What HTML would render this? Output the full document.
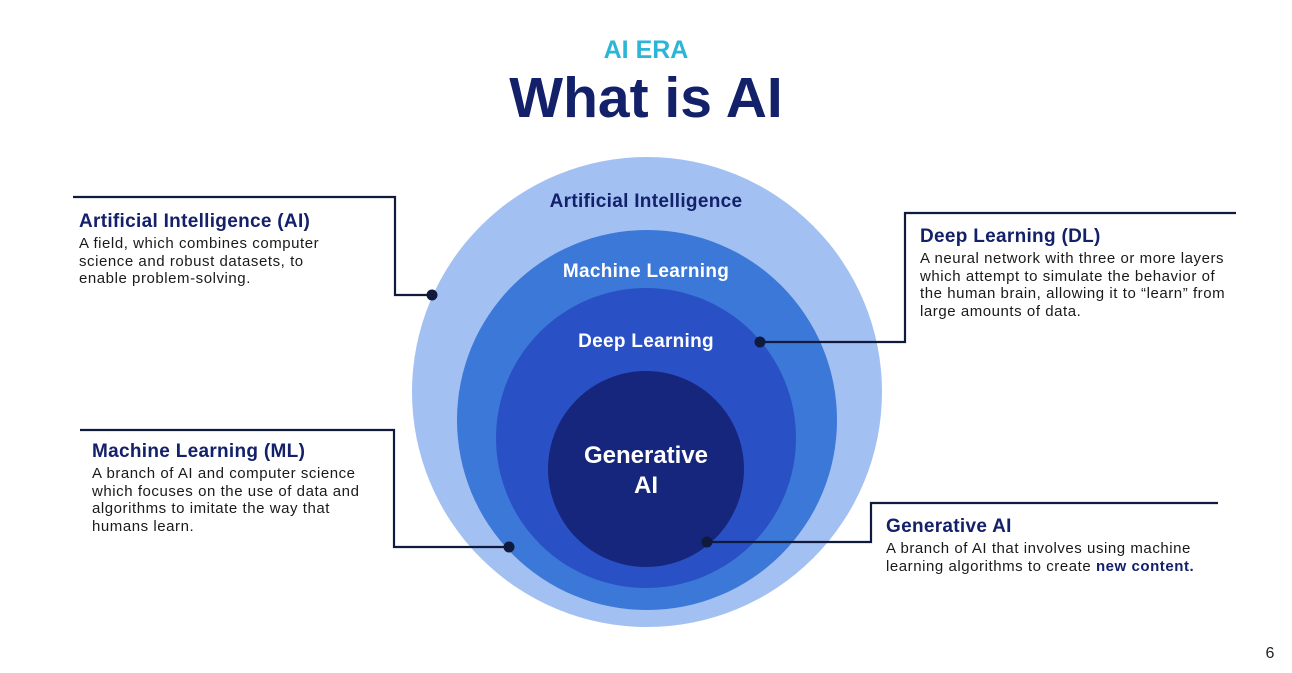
<!DOCTYPE html>
<html><head><meta charset="utf-8"><style>
body{margin:0;width:1292px;height:673px;background:#fff;overflow:hidden;position:relative;font-family:"Liberation Sans",sans-serif;}
.t{position:absolute;color:#111;}
h3{margin:0;font-size:19px;color:#13206a;font-weight:bold;letter-spacing:0.3px;}
p{margin:2px 0 0;font-size:15px;line-height:17.5px;color:#1a1a1a;letter-spacing:0.55px;white-space:nowrap;}
</style></head><body>
<svg width="1292" height="673" style="position:absolute;left:0;top:0">
<circle cx="647" cy="392" r="235" fill="#a3c0f2"/>
<circle cx="647" cy="420" r="190" fill="#3b78d8"/>
<circle cx="646" cy="438" r="150" fill="#2a50c6"/>
<circle cx="646" cy="469" r="98" fill="#16267c"/>
<g fill="none" stroke="#0f1a3d" stroke-width="2.2">
<polyline points="73,197 395,197 395,295 432,295"/>
<polyline points="760,342 905,342 905,213 1236,213"/>
<polyline points="80,430 394,430 394,547 509,547"/>
<polyline points="707,542 871,542 871,503 1218,503"/>
</g>
<g fill="#0f1a3d"><circle cx="432" cy="295" r="5.5"/><circle cx="760" cy="342" r="5.5"/><circle cx="509" cy="547" r="5.5"/><circle cx="707" cy="542" r="5.5"/></g>
<g font-family="Liberation Sans, sans-serif" font-weight="bold" text-anchor="middle">
<text x="646" y="58" font-size="25" fill="#2bb6d8">AI ERA</text>
<text x="646" y="117" font-size="57" fill="#13206a">What is AI</text>
<text x="646" y="207" font-size="19" fill="#13206a" letter-spacing="0.3">Artificial Intelligence</text>
<text x="646" y="277" font-size="19" fill="#fff" letter-spacing="0.3">Machine Learning</text>
<text x="646" y="347" font-size="19" fill="#fff" letter-spacing="0.3">Deep Learning</text>
<text x="646" y="463" font-size="24" fill="#fff">Generative</text>
<text x="646" y="493" font-size="24" fill="#fff">AI</text>
<text x="1270" y="658" font-size="16" font-weight="normal" fill="#222">6</text>
</g>
</svg>
<div class="t" style="left:79px;top:211px"><h3>Artificial Intelligence (AI)</h3><p>A field, which combines computer<br>science and robust datasets, to<br>enable problem-solving.</p></div>
<div class="t" style="left:920px;top:226px"><h3>Deep Learning (DL)</h3><p>A neural network with three or more layers<br>which attempt to simulate the behavior of<br>the human brain, allowing it to “learn” from<br>large amounts of data.</p></div>
<div class="t" style="left:92px;top:441px"><h3>Machine Learning (ML)</h3><p>A branch of AI and computer science<br>which focuses on the use of data and<br>algorithms to imitate the way that<br>humans learn.</p></div>
<div class="t" style="left:886px;top:516px"><h3>Generative AI</h3><p>A branch of AI that involves using machine<br>learning algorithms to create <b style="color:#13206a">new content.</b></p></div>
</body></html>
